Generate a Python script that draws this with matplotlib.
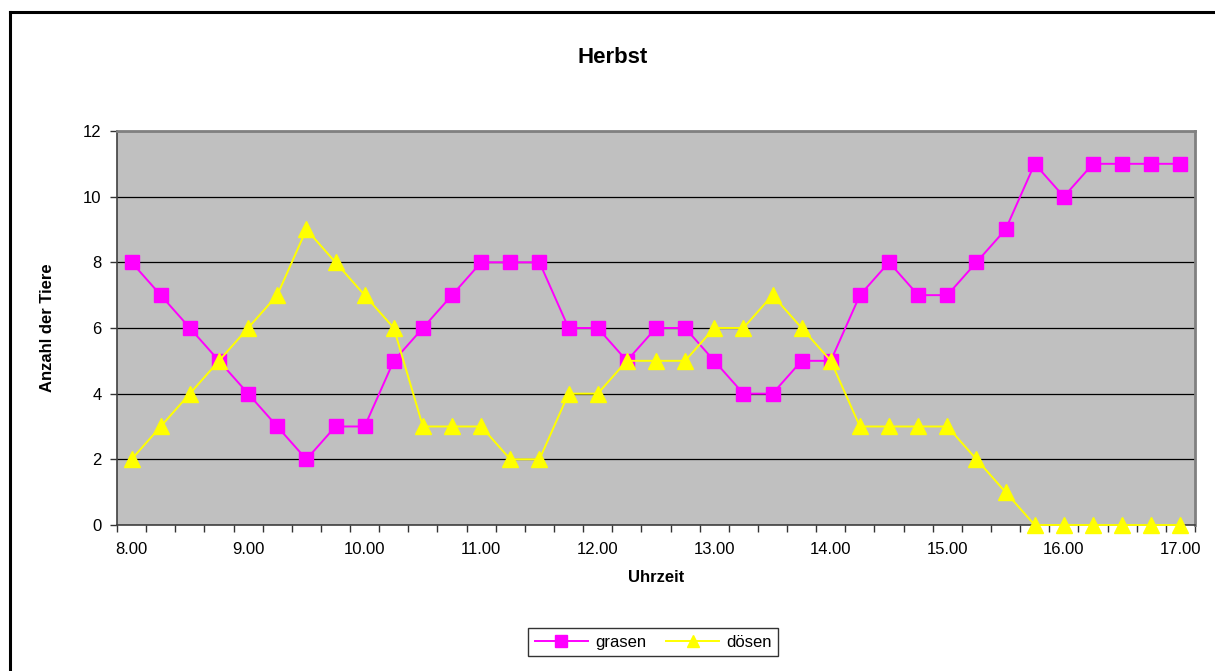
import matplotlib
matplotlib.use("Agg")
import matplotlib.pyplot as plt
from matplotlib.lines import Line2D

plt.rcParams['font.family'] = ['Liberation Sans', 'DejaVu Sans']

# Beobachtungen im Viertelstundentakt, 8.00 bis 17.00
zeiten = [8 + 0.25 * i for i in range(37)]
grasen = [8, 7, 6, 5, 4, 3, 2, 3, 3, 5, 6, 7, 8, 8, 8, 6, 6, 5, 6, 6, 5, 4, 4, 5, 5,
          7, 8, 7, 7, 8, 9, 11, 10, 11, 11, 11, 11]
doesen = [2, 3, 4, 5, 6, 7, 9, 8, 7, 6, 3, 3, 3, 2, 2, 4, 4, 5, 5, 5, 6, 6, 7, 6, 5,
          3, 3, 3, 3, 2, 1, 0, 0, 0, 0, 0, 0]
stunden = ['8.00', '9.00', '10.00', '11.00', '12.00', '13.00', '14.00', '15.00', '16.00', '17.00']

fig = plt.figure(figsize=(12.15, 6.71), dpi=100, facecolor='white')
ax = fig.add_axes([0.0963, 0.2176, 0.8872, 0.5872])
ax.set_facecolor('#C0C0C0')

pos = list(range(len(zeiten)))
ax.plot(pos, grasen, color='#FF00FF', lw=1.4, marker='s', ms=10,
        mec='#FF00FF', mfc='#FF00FF', zorder=3)
ax.plot(pos, doesen, color='#FFFF00', lw=1.4, marker='^', ms=11,
        mec='#FFFF00', mfc='#FFFF00', zorder=3, clip_on=False)

ax.set_xlim(-0.5, len(zeiten) - 0.5)
ax.set_ylim(0, 12)
ax.set_yticks(range(0, 13, 2))
ax.set_yticklabels([str(v) for v in range(0, 13, 2)], fontsize=12)
ax.yaxis.grid(True, color='black', lw=0.9)
ax.set_axisbelow(True)

# Beschriftung in der Mitte jeder vollen Stunde, Striche an den Kategoriegrenzen
ax.set_xticks([i for i in pos if i % 4 == 0])
ax.set_xticklabels(stunden, fontsize=12)
ax.set_xticks([i - 0.5 for i in range(len(zeiten) + 1)], minor=True)
ax.tick_params(axis='x', which='major', length=0, pad=12)
ax.tick_params(axis='x', which='minor', length=5, width=1, color='#333333')
ax.tick_params(axis='y', length=5, width=1, color='#333333', pad=6)

for side in ['top', 'right']:
    ax.spines[side].set_color('#808080')
    ax.spines[side].set_linewidth(2)
for side in ['left', 'bottom']:
    ax.spines[side].set_color('#404040')
    ax.spines[side].set_linewidth(1.2)

fig.text(0.504, 0.9136, 'Herbst', ha='center', va='center', fontsize=16, fontweight='bold')
fig.text(0.540, 0.1386, 'Uhrzeit', ha='center', va='center', fontsize=12, fontweight='bold')
fig.text(0.0387, 0.511, 'Anzahl der Tiere', ha='center', va='center', rotation=90,
         fontsize=12, fontweight='bold')

handles = [Line2D([], [], color='#FF00FF', lw=1.4, marker='s', ms=8),
           Line2D([], [], color='#FFFF00', lw=1.4, marker='^', ms=8)]
leg = fig.legend(handles, ['grasen', 'dösen'], loc='center', bbox_to_anchor=(0.5375, 0.0432),
                 ncol=2, fontsize=12, frameon=True, fancybox=False, handlelength=3.2,
                 columnspacing=1.2, handletextpad=0.4, borderpad=0.4, edgecolor='black')
leg.get_frame().set_linewidth(1)

# Rahmen des Diagrammbereichs links und oben
fig.add_artist(Line2D([0.0082, 1.0], [0.9821, 0.9821], color='black', lw=2.2,
                      transform=fig.transFigure))
fig.add_artist(Line2D([0.0082, 0.0082], [0.0, 0.9821], color='black', lw=2.2,
                      transform=fig.transFigure))

fig.savefig('out.png', dpi=100, facecolor='white')
